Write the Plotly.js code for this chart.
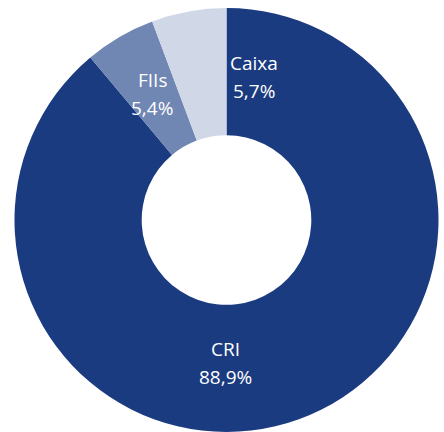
<!DOCTYPE html>
<html>
<head>
<meta charset="utf-8">
<script src="https://cdn.plot.ly/plotly-3.0.1.min.js"></script>
<style>html,body{margin:0;padding:0;background:#fff;}#chart{width:444px;height:432px;}</style>
</head>
<body>
<div id="chart"></div>
<script>
// Data
const categories = ["CRI", "FIIs", "Caixa"];
const shares = [88.9, 5.4, 5.7];
const shareLabels = ["88,9%", "5,4%", "5,7%"];
const colors = ["#1a3b80", "#7086b3", "#d0d8e7"];

// label anchor points (paper coords), in the same order as categories
const labelPos = [
  {x: 225, y: 363},
  {x: 152, y: 94},
  {x: 254, y: 77}
];
const W = 444, H = 432;
const annotations = [];
categories.forEach((c, i) => {
  const p = labelPos[i];
  annotations.push({
    text: c, x: p.x / W, y: 1 - (p.y - 14) / H, xref: "paper", yref: "paper",
    showarrow: false, xanchor: "center", yanchor: "middle",
    font: {family: "Open Sans, sans-serif", size: 19, color: "#ffffff"}
  });
  annotations.push({
    text: shareLabels[i], x: p.x / W, y: 1 - (p.y + 14) / H, xref: "paper", yref: "paper",
    showarrow: false, xanchor: "center", yanchor: "middle",
    font: {family: "Open Sans, sans-serif", size: 19, color: "#ffffff"}
  });
});

const cx = 226.5, cy = 220, R = 212;
const trace = {
  type: "pie",
  labels: categories,
  values: shares,
  hole: 0.4,
  sort: false,
  direction: "clockwise",
  rotation: 0,
  textinfo: "none",
  hoverinfo: "label+percent",
  marker: {colors: colors, line: {width: 0}},
  showlegend: false,
  domain: {x: [(cx - R) / W, (cx + R) / W], y: [1 - (cy + R) / H, 1 - (cy - R) / H]}
};

Plotly.newPlot("chart", [trace], {
  width: W, height: H,
  margin: {l: 0, r: 0, t: 0, b: 0},
  paper_bgcolor: "#ffffff",
  showlegend: false,
  annotations: annotations
}, {displayModeBar: false, staticPlot: true});
</script>
</body>
</html>
